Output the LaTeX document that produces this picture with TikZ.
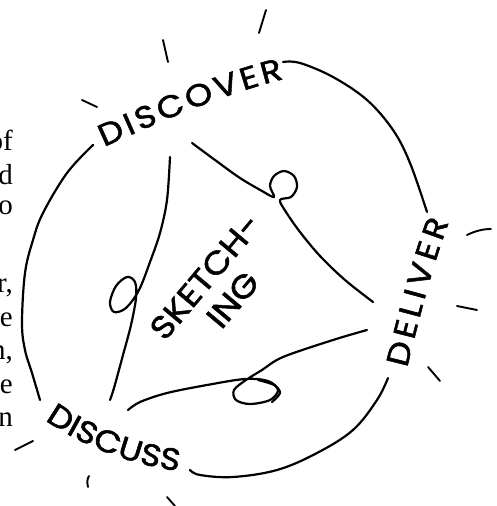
\documentclass[tikz,border=0pt]{standalone}
\usepackage{fontspec}
\newfontfamily\hand{Poppins}[FakeBold=1.6, FakeStretch=1.12]
\newfontfamily\bodyfont{Liberation Serif}
\usetikzlibrary{decorations.text}
\begin{document}
\begin{tikzpicture}[x=1pt,y=-1pt,
  stroke/.style={line width=2.2pt, line cap=round, line join=round},
  tickmark/.style={line width=1.9pt, line cap=round},
  frag/.style={anchor=base east, inner sep=0pt, font=\bodyfont\fontsize{29}{29}\selectfont},
  handtext/.style={decorate, decoration={text along path, text align=fit to path, text={|\hand\fontsize{31}{31}\selectfont|#1}}}
]
\useasboundingbox (0,0) rectangle (496,506);
\fill[white] (0,0) rectangle (496,506);

% cut-off text at the left edge
\node[frag] (f1) at (13,150) {of};
\node[frag] (f2) at (13,184) {d};
\node[frag] (f3) at (13,214) {o};
\node[frag] (f4) at (13,292) {r,};
\node[frag] (f5) at (13,326) {e};
\node[frag] (f6) at (13,359) {n,};
\node[frag] (f7) at (13,393) {e};
\node[frag] (f8) at (13,426) {n};

% labels
\path[handtext=DISCOVER] (104,147) .. controls (160,122) and (220,95) .. (284,79);
\path[handtext=DELIVER] (407,368) .. controls (419,320) and (431,270) .. (449,222);
\path[handtext=DISCUSS] (45,420) .. controls (80,445) and (130,465) .. (178,471);
\node[rotate=50, align=center, inner sep=0pt, font=\hand\fontsize{32}{36}\selectfont] (sk) at (219,288) {SKETCH-\\ING};

% outer arcs
\draw[stroke] plot[smooth, tension=0.6] coordinates {(93,145) (67,173) (43,213) (33,240) (25,273) (22,323) (25,350) (32,373) (40,400)};
\draw[stroke] plot[smooth, tension=0.6] coordinates {(283,62) (300,63) (333,77) (367,100) (393,130) (410,163) (427,212)};
\draw[stroke] plot[smooth, tension=0.6] coordinates {(388,378) (377,400) (353,430) (317,453) (277,470) (233,477) (200,475) (190,470)};

% spokes with loops
\draw[stroke] plot[smooth, tension=0.55] coordinates {(170,157) (167,200) (160,233) (150,262) (139,290) (126,308) (114,312) (110,302) (116,286) (127,277) (135,282) (136,298) (131,325) (123,355) (114,388) (110,400)};
\draw[stroke] plot[smooth, tension=0.55] coordinates {(192,143) (215,160) (240,178) (262,191) (274,197) (270,186) (274,176) (284,171) (294,176) (297,187) (291,197) (280,200) (286,212) (300,232) (320,256) (345,280) (373,302)};
\draw[stroke] plot[smooth, tension=0.55] coordinates {(128,410) (140,402) (167,393) (207,385) (245,379) (268,381) (278,390) (270,400) (250,404) (236,400) (234,390) (246,380) (262,370) (283,357) (333,340) (367,330)};
\draw[stroke] plot[smooth, tension=0.55] coordinates {(258,380) (274,385) (280,393) (272,402)};

% rays
\draw[tickmark] (82,100) -- (97,107);
\draw[tickmark] (163,40) -- (168,62);
\draw[tickmark] (266,10) -- (259,33);
\draw[tickmark] (467,235) .. controls (475,231) and (483,229) .. (491,229);
\draw[tickmark] (457,306) -- (477,310);
\draw[tickmark] (428,367) -- (440,381);
\draw[tickmark] (15,450) -- (33,441);
\draw[tickmark] (89,476) .. controls (87,479) and (87,483) .. (88,487);
\draw[tickmark] (167,497) -- (175,506);
\end{tikzpicture}
\end{document}
